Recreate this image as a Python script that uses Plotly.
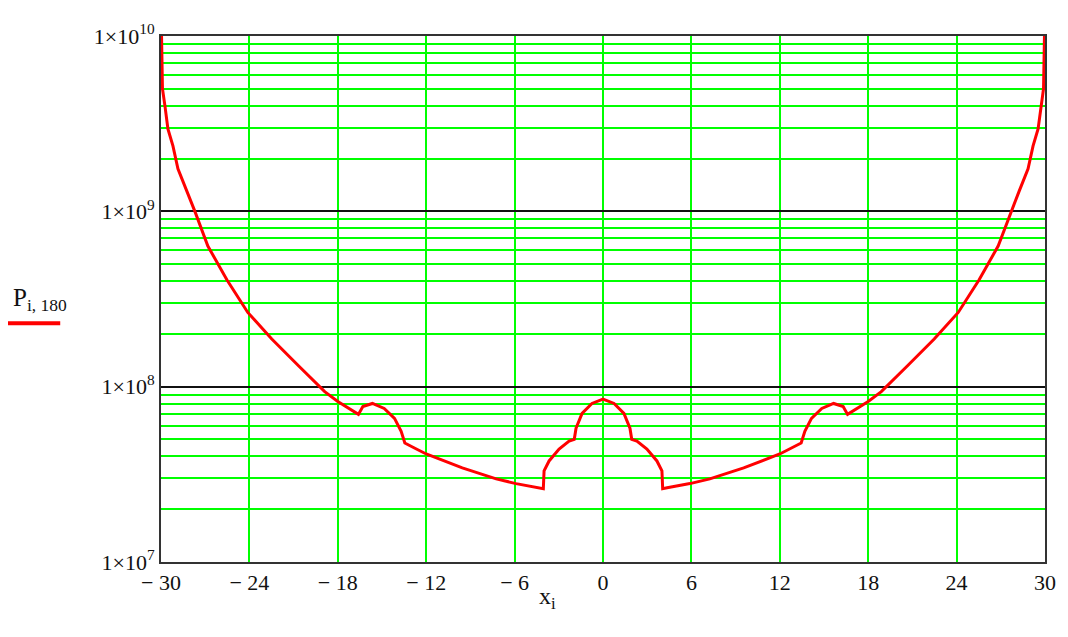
import plotly.graph_objects as go

# Data (x_i, P_i,180)
x_vals = [-30.0, -29.9, -29.73, -29.53, -29.19, -28.85, -28.24, -27.7, -26.82, -25.53, -24.11,
          -22.48, -20.72, -18.89, -18.0, -16.6, -16.3, -15.65, -14.85, -14.15, -13.7, -13.45,
          -12.8, -12.0, -9.55, -7.25, -5.9, -4.35, -4.05, -4.0, -3.66, -2.98, -2.3, -1.95,
          -1.83, -1.42, -0.75, 0.0,
          0.75, 1.42, 1.83, 1.95, 2.3, 2.98, 3.66, 4.0, 4.05, 4.35, 5.9, 7.25, 9.55, 12.0,
          12.8, 13.45, 13.7, 14.15, 14.85, 15.65, 16.3, 16.6, 18.0, 18.89, 20.72, 22.48,
          24.11, 25.53, 26.82, 27.7, 28.24, 28.85, 29.19, 29.53, 29.73, 29.9, 30.0]
p_vals = [1.5e10, 5.0e9, 3.98e9, 2.95e9, 2.36e9, 1.75e9, 1.3e9, 1.0e9, 6.34e8, 4.07e8, 2.65e8,
          1.87e8, 1.33e8, 9.37e7, 8.23e7, 6.95e7, 7.71e7, 8.02e7, 7.51e7, 6.59e7, 5.57e7, 4.77e7,
          4.47e7, 4.13e7, 3.44e7, 2.98e7, 2.8e7, 2.65e7, 2.62e7, 3.31e7, 3.77e7, 4.41e7, 4.89e7, 5.01e7,
          5.79e7, 7.04e7, 8.02e7, 8.5e7,
          8.02e7, 7.04e7, 5.79e7, 5.01e7, 4.89e7, 4.41e7, 3.77e7, 3.31e7, 2.62e7, 2.65e7, 2.8e7, 2.98e7, 3.44e7, 4.13e7,
          4.47e7, 4.77e7, 5.57e7, 6.59e7, 7.51e7, 8.02e7, 7.71e7, 6.95e7, 8.23e7, 9.37e7, 1.33e8, 1.87e8,
          2.65e8, 4.07e8, 6.34e8, 1.0e9, 1.3e9, 1.75e9, 2.36e9, 2.95e9, 3.98e9, 5.0e9, 1.5e10]

x_tick_vals = [-30, -24, -18, -12, -6, 0, 6, 12, 18, 24, 30]
x_tick_text = ["\u2212 30", "\u2212 24", "\u2212 18", "\u2212 12", "\u2212 6", "0", "6", "12", "18", "24", "30"]
y_tick_vals = [1e7, 1e8, 1e9, 1e10]
y_tick_text = ["1\u00d710<sup>7</sup>", "1\u00d710<sup>8</sup>", "1\u00d710<sup>9</sup>", "1\u00d710<sup>10</sup>"]

FONT = "Liberation Serif"
GREEN = "#00ff00"

fig = go.Figure()
fig.add_trace(go.Scatter(x=x_vals, y=p_vals, mode="lines",
                         line=dict(color="#ff0000", width=3), showlegend=False))

# page body has an 8px default margin, so the figure is sized/offset to compensate
fig.update_layout(
    width=1060, height=629,
    margin=dict(l=153, r=21, t=23, b=75),
    paper_bgcolor="white", plot_bgcolor="white",
    font=dict(family=FONT, size=22, color="#111111"),
    xaxis=dict(range=[-30, 30], tickvals=x_tick_vals, ticktext=x_tick_text,
               showgrid=True, gridcolor=GREEN, gridwidth=2,
               showline=True, linecolor="#333333", linewidth=2, mirror=True,
               ticks="", zeroline=False, tickfont=dict(family=FONT, size=22)),
    yaxis=dict(type="log", range=[7, 10], tickvals=y_tick_vals, ticktext=y_tick_text,
               showgrid=True, gridcolor="#111111", gridwidth=2,
               minor=dict(showgrid=True, gridcolor=GREEN, gridwidth=2, dtick="D1"),
               showline=True, linecolor="#333333", linewidth=2, mirror=True,
               ticks="", zeroline=False, tickfont=dict(family=FONT, size=22)),
)

fig.add_annotation(text="P<sub>i, 180</sub>", xref="paper", yref="paper",
                   x=-0.170, y=0.50, xanchor="left", yanchor="middle",
                   showarrow=False, font=dict(family=FONT, size=25, color="#111111"))
fig.add_shape(type="line", xref="paper", yref="paper", x0=-0.1817, x1=-0.114,
              y0=0.454, y1=0.454, line=dict(color="#ff0000", width=4))
fig.add_annotation(text="x<sub>i</sub>", xref="paper", yref="paper",
                   x=0.437, y=-0.068, xanchor="center", yanchor="middle",
                   showarrow=False, font=dict(family=FONT, size=24, color="#111111"))

fig.write_html("out.html")
